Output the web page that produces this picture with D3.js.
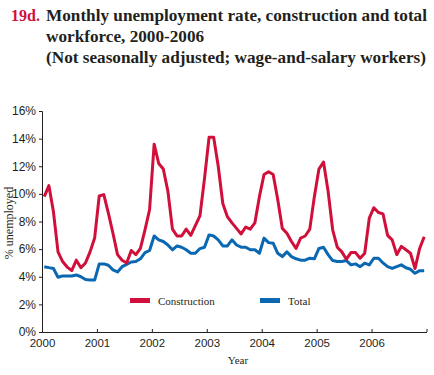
<!DOCTYPE html>
<html>
<head>
<meta charset="utf-8">
<script src="https://cdn.jsdelivr.net/npm/d3@7"></script>
<style>
  body{margin:0;background:#fff;}
  svg{display:block;font-family:"Liberation Serif","DejaVu Serif",serif;}
</style>
</head>
<body>
<svg id="chart" width="434" height="375"></svg>
<script>
// monthly values, Jan 2000 .. Dec 2006
const yearLabels=['2000','2001','2002','2003','2004','2005','2006'];
const construction=[
  9.8,10.6,8.7,5.8,5.1,4.7,4.45,5.2,4.65,5.0,5.8,6.8,
  9.85,9.95,8.6,7.15,5.6,5.2,5.0,5.9,5.6,6.05,7.4,8.85,
  13.6,12.2,11.8,10.2,7.45,6.95,6.95,7.45,7.0,7.7,8.4,11.1,
  14.1,14.1,12.0,9.3,8.35,7.9,7.5,7.1,7.6,7.45,7.9,9.8,
  11.4,11.6,11.4,9.6,7.5,7.15,6.55,6.05,6.8,6.95,7.45,9.8,
  11.8,12.3,10.2,7.4,6.14,5.8,5.27,5.75,5.75,5.34,5.7,8.24,
  9.0,8.65,8.55,7.0,6.67,5.6,6.2,5.95,5.7,4.6,6.05,6.9
];
const total=[
  4.73,4.66,4.6,3.96,4.06,4.06,4.06,4.13,4.0,3.8,3.76,3.76,
  4.93,4.93,4.83,4.5,4.35,4.73,4.9,5.07,5.1,5.3,5.75,5.9,
  6.95,6.67,6.55,6.3,5.95,6.23,6.14,5.95,5.7,5.7,6.04,6.14,
  7.03,6.95,6.67,6.23,6.23,6.67,6.3,6.14,6.14,5.95,5.95,5.7,
  6.8,6.47,6.43,5.7,5.46,5.8,5.46,5.3,5.2,5.2,5.34,5.3,
  6.05,6.14,5.6,5.17,5.1,5.1,5.17,4.86,4.93,4.73,4.98,4.86,
  5.34,5.34,5.0,4.73,4.6,4.73,4.86,4.65,4.54,4.25,4.44,4.44
];
const yTicks=[0,2,4,6,8,10,12,14,16];

const RED='#d0103a', BLUE='#0a67b2', INK='#231f20';
const svg=d3.select('#chart');

// title
const t=svg.append('g').attr('font-weight','bold').attr('font-size','17.2px').attr('fill',INK);
t.append('text').attr('x',11).attr('y',21).attr('fill',RED).attr('font-size','16px').text('19d.');
t.append('text').attr('x',46).attr('y',21).text('Monthly unemployment rate, construction and total');
t.append('text').attr('x',46).attr('y',42).text('workforce, 2000-2006');
t.append('text').attr('x',46).attr('y',63).text('(Not seasonally adjusted; wage-and-salary workers)');

const x=d3.scaleLinear().domain([0,84]).range([42,426.5]);
const y=d3.scaleLinear().domain([0,16]).range([332,111]);

const ya=svg.append('g').attr('transform','translate(42,0)')
  .call(d3.axisLeft(y).tickValues(yTicks).tickSize(3).tickPadding(3).tickFormat(d=>d+'%'));
ya.select('.domain').attr('stroke',INK);
ya.selectAll('.tick line').attr('stroke',INK);
ya.selectAll('text').attr('font-size','12px').attr('fill',INK).attr('font-family',null);

const xa=svg.append('g').attr('transform','translate(0,332)')
  .call(d3.axisBottom(x).tickValues(d3.range(0,85,12)).tickSizeInner(-3).tickSizeOuter(0).tickPadding(7)
    .tickFormat((d,i)=>yearLabels[i]||''));
xa.select('.domain').attr('stroke',INK);
xa.selectAll('.tick line').attr('stroke',INK);
xa.selectAll('text').attr('font-size','11.5px').attr('fill',INK).attr('font-family',null);

svg.append('text').attr('x',238).attr('y',364).attr('text-anchor','middle')
  .attr('font-size','11px').attr('fill',INK).text('Year');
svg.append('text').attr('transform','translate(13,223) rotate(-90)').attr('text-anchor','middle')
  .attr('font-size','12px').attr('fill',INK).text('% unemployed');

const line=d3.line().x((d,i)=>x(i+0.5)).y(d=>y(d));
svg.append('path').datum(total).attr('d',line).attr('fill','none')
  .attr('stroke',BLUE).attr('stroke-width',3).attr('stroke-linejoin','round');
svg.append('path').datum(construction).attr('d',line).attr('fill','none')
  .attr('stroke',RED).attr('stroke-width',3).attr('stroke-linejoin','round');

// legend
const legend=[{name:'Construction',color:RED,x:130},{name:'Total',color:BLUE,x:260}];
const lg=svg.selectAll('.lg').data(legend).enter().append('g').attr('class','lg');
lg.append('rect').attr('x',d=>d.x).attr('y',298).attr('width',20).attr('height',5).attr('fill',d=>d.color);
lg.append('text').attr('x',d=>d.x+28).attr('y',305).attr('font-size','11px').attr('fill',INK).text(d=>d.name);
</script>
</body>
</html>
